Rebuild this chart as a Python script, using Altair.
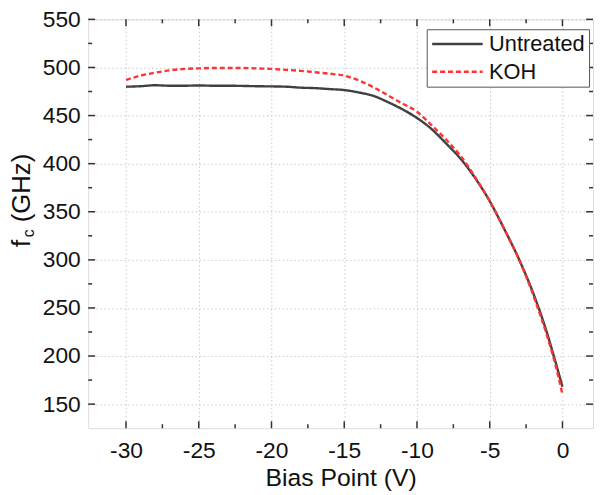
import altair as alt
import pandas as pd

bias = [-30, -29, -28, -27, -26, -25, -24, -23, -22, -21, -20, -19, -18, -17, -16, -15,
        -14, -13, -12, -11, -10, -9, -8, -7, -6, -5, -4, -3, -2, -1, -0.5, 0]
untreated = [480, 480.5, 481.5, 481, 481, 481.3, 481, 481, 480.8, 480.5, 480.3, 480, 479, 478.5, 477.5, 476.5,
             474, 470.5, 464, 456.5, 447.5, 436, 421, 405, 385, 361, 332, 301, 265, 221, 195, 168]
koh = [487, 491.5, 494.5, 497, 498.5, 499, 499.5, 499.5, 499.5, 499, 498.5, 497.5, 496.5, 495, 493.5, 491.5,
       486.5, 479.5, 471, 462.5, 454, 440, 425, 408, 386, 361, 332, 301, 263, 218, 192, 160]

series_names = ["Untreated", "KOH"]
x_major = [-30, -25, -20, -15, -10, -5, 0]
x_minor = [-27.5, -22.5, -17.5, -12.5, -7.5, -2.5]
y_major = [150, 200, 250, 300, 350, 400, 450, 500, 550]
y_minor = [175, 225, 275, 325, 375, 425, 475, 525]

rows = []
for name, vals in zip(series_names, [untreated, koh]):
    for b, v in zip(bias, vals):
        rows.append({"bias": b, "fc": v, "series": name})
df = pd.DataFrame(rows)

W, H = 510, 413
XDOM = [-32.6, 2.1]
YDOM = [125, 550]
FONT = "Liberation Sans"
TXT = "#111111"
TICK = "#333333"
MAJ, MIN = 7, 4

xs = alt.Scale(domain=XDOM, nice=False, zero=False)
ys = alt.Scale(domain=YDOM, nice=False, zero=False)

legend = alt.Legend(
    title=None, orient="none", legendX=342, legendY=10,
    strokeColor="#555555", fillColor="white", padding=4,
    labelFont=FONT, labelFontSize=22, labelColor=TXT, labelLimit=300,
    symbolType="M-3,0H3", symbolSize=289, symbolStrokeWidth=2.5, symbolOffset=16,
    labelOffset=21, rowPadding=6,
)

lines = alt.Chart(df).mark_line(strokeWidth=2.4, interpolate="monotone").encode(
    x=alt.X("bias:Q", scale=xs, axis=alt.Axis(
        orient="bottom", values=x_major, ticks=False, domain=False,
        grid=True, gridColor="#c8c8c8", gridDash=[1.5, 2.5], gridWidth=1,
        labelExpr="'' + datum.value",
        labelFont=FONT, labelFontSize=23, labelColor=TXT, labelPadding=12,
        title="Bias Point (V)", titleFont=FONT, titleFontSize=25, titleFontWeight="normal",
        titleColor=TXT, titleY=38, titleBaseline="top")),
    y=alt.Y("fc:Q", scale=ys, axis=alt.Axis(
        orient="left", values=y_major, ticks=False, domain=False,
        grid=True, gridColor="#c8c8c8", gridDash=[1.5, 2.5], gridWidth=1,
        labelExpr="'' + datum.value",
        labelFont=FONT, labelFontSize=23, labelColor=TXT, labelPadding=8, title=None)),
    color=alt.Color("series:N", scale=alt.Scale(domain=series_names, range=["#404040", "#ff3333"]),
                    legend=legend),
    strokeDash=alt.StrokeDash("series:N", scale=alt.Scale(domain=series_names, range=[[1, 0], [5, 3]]),
                              legend=legend),
)


def xticks(vals, y0, y1):
    return alt.Chart(pd.DataFrame({"bias": vals})).mark_rule(color=TICK, strokeWidth=1.5).encode(
        x=alt.X("bias:Q", scale=xs, axis=None), y=alt.value(y0), y2=alt.value(y1))


def yticks(vals, x0, x1):
    return alt.Chart(pd.DataFrame({"fc": vals})).mark_rule(color=TICK, strokeWidth=1.5).encode(
        y=alt.Y("fc:Q", scale=ys, axis=None), x=alt.value(x0), x2=alt.value(x1))


tick_layers = [
    xticks(x_major, H, H - MAJ), xticks(x_minor, H, H - MIN),
    xticks(x_major, 0, MAJ), xticks(x_minor, 0, MIN),
    yticks(y_major, 0, MAJ), yticks(y_minor, 0, MIN),
    yticks(y_major, W, W - MAJ), yticks(y_minor, W, W - MIN),
]

t_f = alt.Chart(pd.DataFrame({"t": ["f"]})).mark_text(
    angle=270, align="left", baseline="alphabetic", font=FONT, fontSize=26, color=TXT
).encode(text="t:N", x=alt.value(-59), y=alt.value(230))
t_c = alt.Chart(pd.DataFrame({"t": ["c"]})).mark_text(
    angle=270, align="left", baseline="alphabetic", font=FONT, fontSize=16, color=TXT
).encode(text="t:N", x=alt.value(-55), y=alt.value(220))
t_g = alt.Chart(pd.DataFrame({"t": ["(GHz)"]})).mark_text(
    angle=270, align="left", baseline="alphabetic", font=FONT, fontSize=26, color=TXT
).encode(text="t:N", x=alt.value(-59), y=alt.value(205))

chart = alt.layer(lines, *tick_layers, t_f, t_c, t_g).resolve_axis(
    x="independent", y="independent"
).properties(
    width=W, height=H,
    autosize=alt.AutoSizeParams(type="none"),
    padding={"left": 81, "top": 9, "right": 1, "bottom": 62},
).configure_view(
    stroke="#333333", strokeWidth=2
).configure(background="white")

chart.save("out.html", embed_options={"renderer": "svg", "actions": False})
